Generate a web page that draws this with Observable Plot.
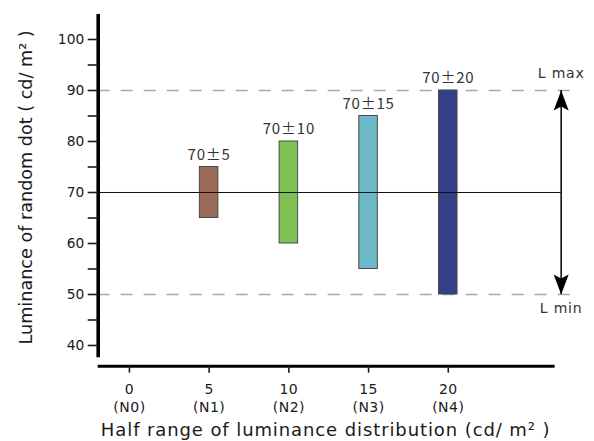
<!DOCTYPE html>
<html>
<head>
<meta charset="utf-8">
<script src="https://cdn.jsdelivr.net/npm/d3@7"></script>
<script src="https://cdn.jsdelivr.net/npm/@observablehq/plot@0.6"></script>
<style>
  html, body { margin: 0; padding: 0; background: #fff; }
</style>
</head>
<body>
<div id="chart"></div>
<script>
// ---- data ----
const halfRanges = [5, 10, 15, 20];            // x positions (cd/m²)
const centreLum = 70;                          // mean luminance
const barColors = ["#9b6b5a", "#80c055", "#6ab8c8", "#343f85"];
const xTicks = [0, 5, 10, 15, 20];
const xTickCodes = ["N0", "N1", "N2", "N3", "N4"];
const yTicks = [40, 45, 50, 55, 60, 65, 70, 75, 80, 85, 90, 95, 100];
const lumLimits = [90, 50];                    // L max, L min
const limitLabels = ["L max", "L min"];
const yTitle = "Luminance of random dot ( cd/ m\u00B2 )";
const xTitle = "Half range of luminance distribution (cd/ m\u00B2 )";

const bars = halfRanges.map((h, i) => ({
  x: h, lo: centreLum - h, hi: centreLum + h, color: barColors[i], label: `${centreLum}\u00B1${h}`
}));

// layout (scale domains)
const xMin = -1.96, xMax = 26.7;
const yMin = 35.94, yMax = 104.9;
const arrowX = 27.08;
const dashEnd = 27.98;
const barHalfWidth = 0.58;

const arrowHead = {
  draw(context) {
    context.moveTo(0, 0);
    context.lineTo(7.5, 20);
    context.lineTo(0, 16);
    context.lineTo(-7.5, 20);
    context.closePath();
  }
};

const chart = Plot.plot({
  width: 594,
  height: 441,
  marginLeft: 97.7,
  marginRight: 39.4,
  marginTop: 14,
  marginBottom: 75.3,
  style: {fontFamily: "'DejaVu Sans', sans-serif", fontSize: "13.5px", color: "#1a1a1a", background: "#fff"},
  x: {domain: [xMin, xMax]},
  y: {domain: [yMin, yMax]},
  marks: [
    // dashed limits
    Plot.ruleY(lumLimits, {x1: xMin, x2: dashEnd, stroke: "#a8a8a8", strokeWidth: 1.3, strokeDasharray: "12,11"}),
    // bars
    Plot.rect(bars, {
      x1: d => d.x - barHalfWidth, x2: d => d.x + barHalfWidth,
      y1: "lo", y2: "hi", fill: d => d.color, stroke: "#4a4a4a", strokeWidth: 1
    }),
    // centre line drawn over bars
    Plot.ruleY([centreLum], {x1: xMin, x2: arrowX, stroke: "#111", strokeWidth: 1}),
    Plot.text(bars, {
      x: "x", y: "hi", text: "label", dy: -12, lineAnchor: "middle",
      fontFamily: "'Noto Sans CJK JP', 'Noto Sans', sans-serif", fontSize: 15, fill: "#333"
    }),
    // double arrow
    Plot.ruleX([arrowX], {y1: lumLimits[1], y2: lumLimits[0], stroke: "#000", strokeWidth: 1.5}),
    Plot.dot([{y: lumLimits[0], r: 0}, {y: lumLimits[1], r: 180}], {
      x: () => arrowX, y: "y", rotate: "r", symbol: arrowHead, fill: "#000", stroke: "none"
    }),
    Plot.text([limitLabels[0]], {x: () => arrowX, y: () => lumLimits[0], dy: -17, fontSize: 14, fill: "#333"}),
    Plot.text([limitLabels[1]], {x: () => arrowX, y: () => lumLimits[1], dy: 14, fontSize: 14, fill: "#333"}),
    // axes
    Plot.ruleX([xMin], {y1: 37.6, y2: yMax, stroke: "#000", strokeWidth: 3.6}),
    Plot.axisY({
      ticks: yTicks, tickSize: 10, tickPadding: 4, strokeWidth: 1.6,
      tickFormat: d => (d % 10 === 0 ? String(d) : ""), label: null, fontSize: 13.8
    }),
    Plot.ruleY([yMin], {stroke: "#000", strokeWidth: 3}),
    Plot.axisX({
      ticks: xTicks, tickSize: 7, tickPadding: 8, strokeWidth: 1.6, lineHeight: 1.29,
      tickFormat: d => `${d}\n(${xTickCodes[xTicks.indexOf(d)]})`, label: null, fontSize: 14
    }),
    // titles
    Plot.text([yTitle], {frameAnchor: "left", rotate: -90, textAnchor: "middle", lineAnchor: "middle",
      dx: -72, dy: -3, fontSize: 17.6, fill: "#1a1a1a"}),
    Plot.text([xTitle], {frameAnchor: "bottom", textAnchor: "middle", lineAnchor: "middle",
      dy: 64, dx: -1, fontSize: 18, fill: "#1a1a1a"})
  ]
});

// letter spacing to match the wide lettering of the reference
const sel = d3.select(chart);
sel.selectAll("text").each(function () {
  const t = this.textContent;
  if (t === xTitle) this.style.letterSpacing = "0.9px";
  else if (t.includes("\u00B1")) this.style.letterSpacing = "0.8px";
  else if (limitLabels.includes(t)) this.style.letterSpacing = "0.8px";
  else if (t.includes("(N")) this.style.letterSpacing = "0.5px";
});

document.getElementById("chart").appendChild(chart);
</script>
</body>
</html>
